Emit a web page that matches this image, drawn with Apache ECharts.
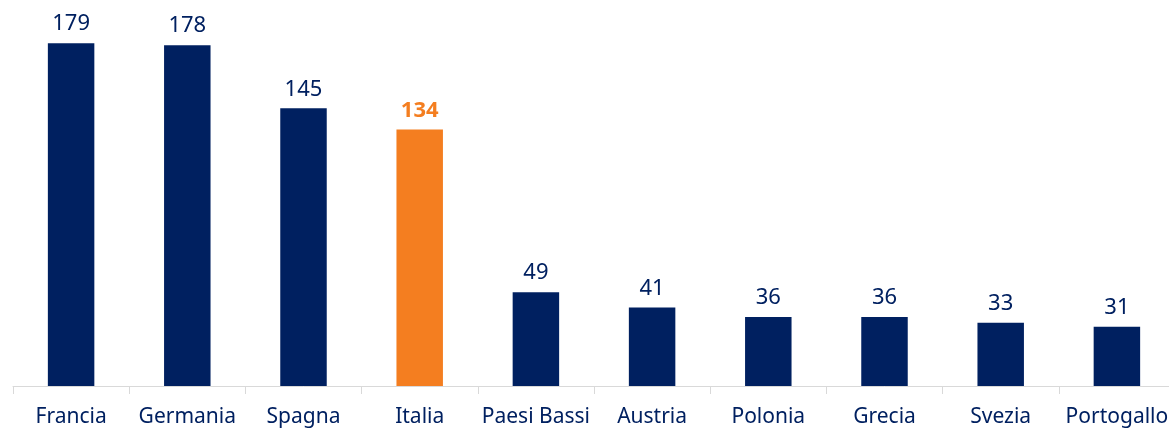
<!DOCTYPE html>
<html>
<head>
<meta charset="utf-8">
<script src="https://cdn.jsdelivr.net/npm/echarts@6/dist/echarts.min.js"></script>
<style>
html,body{margin:0;padding:0;background:#fff;overflow:hidden;}
#chart{width:1175px;height:430px;}
</style>
</head>
<body>
<div id="chart"></div>
<script>
var categories = ['Francia', 'Germania', 'Spagna', 'Italia', 'Paesi Bassi', 'Austria', 'Polonia', 'Grecia', 'Svezia', 'Portogallo'];
var values = [179, 178, 145, 134, 49, 41, 36, 36, 33, 31];
var highlight = 'Italia';

var navy = '#002060';
var orange = '#F47E20';

var mychart = echarts.init(document.getElementById('chart'));
var seriesData = [];
for (var i = 0; i < values.length; i++) {
	var isHi = categories[i] == highlight;
	seriesData.push({
		value: values[i],
		itemStyle: { color: isHi ? orange : navy },
		label: { color: isHi ? orange : navy, fontWeight: isHi ? 'bold' : 'normal' }
	});
}

var option = {
	animation: false,
	grid: { left: 13, right: 0, top: 3, bottom: 44, containLabel: false },
	xAxis: {
		type: 'category',
		data: categories,
		axisLine: { lineStyle: { color: '#d9d9d9', width: 1 } },
		axisTick: { show: true, length: 8, lineStyle: { color: '#d9d9d9' } },
		axisLabel: { color: navy, fontSize: 21, fontFamily: 'Noto Sans', margin: 21, interval: 0 }
	},
	yAxis: {
		type: 'value',
		min: 0,
		max: 200,
		show: false,
		splitLine: { show: false }
	},
	series: [{
		type: 'bar',
		data: seriesData,
		barWidth: '40%',
		label: { show: true, position: 'top', distance: 8, fontSize: 22, fontFamily: 'Noto Sans' }
	}]
};
mychart.setOption(option, true);
</script>
</body>
</html>
